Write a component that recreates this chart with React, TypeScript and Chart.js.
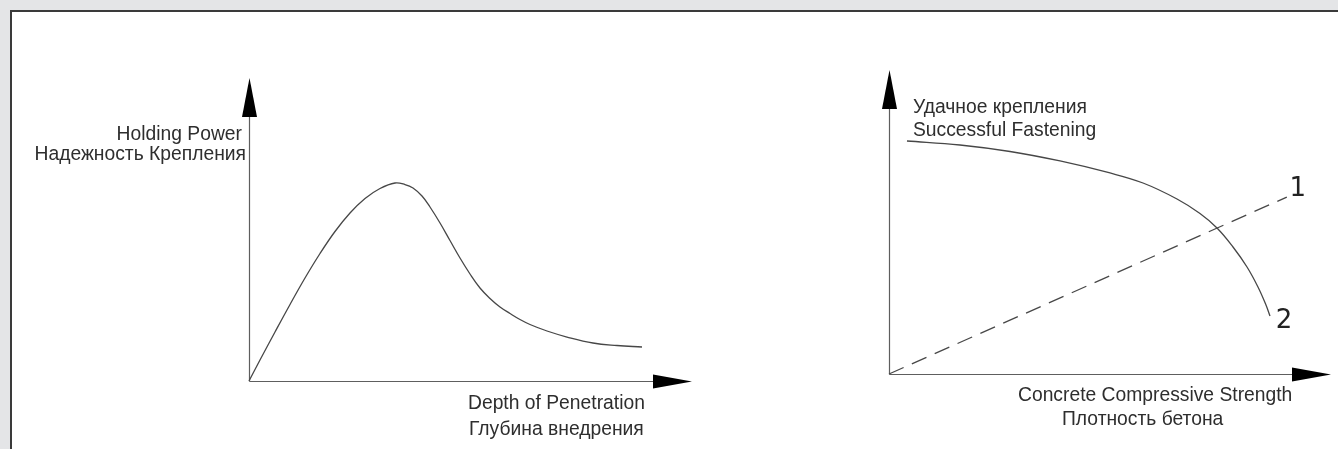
import React, { useEffect, useRef } from "react";
import { Chart, registerables } from "chart.js";

Chart.register(...registerables);

const W = 1338;
const H = 449;

// ---- Left chart: Depth of Penetration vs Holding Power (arbitrary units 0..100)
const depthX = [0, 2.48, 5.87, 9.26, 12.64, 16.03, 19.41, 22.8, 26.19, 29.57, 32.96, 35.21, 37.02, 39.05, 40.86, 43.12, 45.37, 47.63, 49.89, 52.14, 54.4, 56.66, 58.92, 61.17, 63.43, 67.27, 71.78, 77.65, 83.07, 88.71];
const holdingY = [0, 6.93, 16.17, 25.25, 33.99, 42.08, 49.34, 55.45, 60.23, 63.53, 65.35, 64.85, 63.7, 61.06, 57.43, 52.15, 46.37, 40.59, 35.31, 30.69, 27.23, 24.42, 22.28, 20.3, 18.65, 16.5, 14.52, 12.54, 11.72, 11.22];

// ---- Right chart: Concrete Compressive Strength
const strengthX1 = [0, 90.0];
const curve1Y = [0, 58.2];
const strengthX2 = [4.07, 16.06, 27.38, 38.69, 50.0, 57.47, 65.16, 70.36, 74.21, 77.83, 81.0, 83.48, 85.29, 86.2];
const curve2Y = [76.64, 75.33, 73.19, 70.07, 66.12, 62.83, 57.57, 52.8, 48.03, 41.78, 35.2, 28.62, 22.7, 19.08];

// ---- Text
const leftYLabel = ["Holding Power", "Надежность Крепления"];
const leftXLabel = ["Depth of Penetration", "Глубина внедрения"];
const rightYLabel = ["Удачное крепления", "Successful Fastening"];
const rightXLabel = ["Concrete Compressive Strength", "Плотность бетона"];
const curveTags = ["1", "2"];

const FONT = '19.3px "Liberation Sans", Arial, sans-serif';
const TAG_FONT = '26px "DejaVu Sans", "Liberation Sans", sans-serif';
const TEXT_COLOR = "#2e2e2e";
const LINE_COLOR = "#474747";
const AXIS_COLOR = "#5e5e5e";

function toPoints(xs: number[], ys: number[]) {
  return xs.map((x, i) => ({ x, y: ys[i] }));
}

function drawAxes(chart: any) {
  const ctx = chart.ctx as CanvasRenderingContext2D;
  const sx = chart.scales.x;
  const sy = chart.scales.y;
  const x0 = Math.round(sx.getPixelForValue(0)) + 0.5;
  const y0 = Math.round(sy.getPixelForValue(0)) + 0.5;
  const xEnd = sx.getPixelForValue(100);
  const yEnd = sy.getPixelForValue(100);
  ctx.save();
  ctx.strokeStyle = AXIS_COLOR;
  ctx.lineWidth = 1.2;
  ctx.beginPath();
  ctx.moveTo(x0, y0);
  ctx.lineTo(xEnd - 10, y0);
  ctx.moveTo(x0, y0);
  ctx.lineTo(x0, yEnd + 10);
  ctx.stroke();
  ctx.fillStyle = "#000000";
  // x arrow
  ctx.beginPath();
  ctx.moveTo(xEnd, y0);
  ctx.lineTo(xEnd - 39, y0 - 7);
  ctx.lineTo(xEnd - 39, y0 + 7);
  ctx.closePath();
  ctx.fill();
  // y arrow
  ctx.beginPath();
  ctx.moveTo(x0, yEnd);
  ctx.lineTo(x0 - 7.5, yEnd + 39);
  ctx.lineTo(x0 + 7.5, yEnd + 39);
  ctx.closePath();
  ctx.fill();
  ctx.restore();
}

const leftPlugin = {
  id: "leftDecor",
  beforeDatasetsDraw(chart: any) {
    drawAxes(chart);
  },
  afterDraw(chart: any) {
    const ctx = chart.ctx as CanvasRenderingContext2D;
    const x0 = chart.scales.x.getPixelForValue(0);
    const y0 = chart.scales.y.getPixelForValue(0);
    const yEnd = chart.scales.y.getPixelForValue(100);
    ctx.save();
    ctx.font = FONT;
    ctx.fillStyle = TEXT_COLOR;
    ctx.textBaseline = "middle";
    ctx.textAlign = "right";
    ctx.fillText(leftYLabel[0], x0 - 7, yEnd + 57);
    ctx.fillText(leftYLabel[1], x0 - 3, yEnd + 77);
    ctx.textAlign = "left";
    ctx.fillText(leftXLabel[0], x0 + 219, y0 + 23);
    ctx.fillText(leftXLabel[1], x0 + 220, y0 + 48.5);
    ctx.restore();
  },
};

const rightPlugin = {
  id: "rightDecor",
  beforeDatasetsDraw(chart: any) {
    drawAxes(chart);
  },
  afterDraw(chart: any) {
    const ctx = chart.ctx as CanvasRenderingContext2D;
    const sx = chart.scales.x;
    const sy = chart.scales.y;
    const x0 = sx.getPixelForValue(0);
    const y0 = sy.getPixelForValue(0);
    const yEnd = sy.getPixelForValue(100);
    ctx.save();
    ctx.font = FONT;
    ctx.fillStyle = TEXT_COLOR;
    ctx.textBaseline = "middle";
    ctx.textAlign = "left";
    ctx.fillText(rightYLabel[0], x0 + 24, yEnd + 38);
    ctx.fillText(rightYLabel[1], x0 + 24, yEnd + 60.5);
    ctx.fillText(rightXLabel[0], x0 + 129, y0 + 22);
    ctx.fillText(rightXLabel[1], x0 + 173, y0 + 46);
    // curve tags
    ctx.font = TAG_FONT;
    ctx.fillStyle = "#222222";
    ctx.textAlign = "center";
    const e1x = sx.getPixelForValue(strengthX1[strengthX1.length - 1]);
    const e1y = sy.getPixelForValue(curve1Y[curve1Y.length - 1]);
    const e2x = sx.getPixelForValue(strengthX2[strengthX2.length - 1]);
    const e2y = sy.getPixelForValue(curve2Y[curve2Y.length - 1]);
    ctx.fillText(curveTags[0], e1x + 11, e1y - 8);
    ctx.fillText(curveTags[1], e2x + 14, e2y + 5);
    ctx.restore();
  },
};

function baseOptions(padding: any) {
  return {
    responsive: false,
    animation: false as const,
    devicePixelRatio: 1,
    layout: { padding },
    plugins: {
      legend: { display: false },
      tooltip: { enabled: false },
      title: { display: false },
    },
    elements: { point: { radius: 0, hoverRadius: 0 } },
    scales: {
      x: { type: "linear" as const, min: 0, max: 100, display: false },
      y: { type: "linear" as const, min: 0, max: 100, display: false },
    },
    events: [],
  };
}

function ChartCanvas({ make }: { make: (c: HTMLCanvasElement) => Chart }) {
  const ref = useRef<HTMLCanvasElement | null>(null);
  useEffect(() => {
    if (!ref.current) return;
    const chart = make(ref.current);
    return () => chart.destroy();
  }, []);
  return (
    <canvas
      ref={ref}
      width={W}
      height={H}
      style={{ position: "absolute", left: 0, top: 0, width: W, height: H }}
    />
  );
}

function makeLeft(canvas: HTMLCanvasElement) {
  return new Chart(canvas, {
    type: "scatter",
    data: {
      datasets: [
        {
          data: toPoints(depthX, holdingY),
          showLine: true,
          borderColor: LINE_COLOR,
          borderWidth: 1.3,
          tension: 0.4,
          pointRadius: 0,
          clip: false,
        } as any,
      ],
    },
    options: baseOptions({ left: 249, top: 78, right: W - 692, bottom: H - 381 }) as any,
    plugins: [leftPlugin],
  });
}

function makeRight(canvas: HTMLCanvasElement) {
  return new Chart(canvas, {
    type: "scatter",
    data: {
      datasets: [
        {
          data: toPoints(strengthX1, curve1Y),
          showLine: true,
          borderColor: LINE_COLOR,
          borderWidth: 1.3,
          borderDash: [16, 9],
          pointRadius: 0,
          clip: false,
        } as any,
        {
          data: toPoints(strengthX2, curve2Y),
          showLine: true,
          borderColor: LINE_COLOR,
          borderWidth: 1.3,
          tension: 0.4,
          pointRadius: 0,
          clip: false,
        } as any,
      ],
    },
    options: baseOptions({ left: 889, top: 70, right: W - 1331, bottom: H - 374 }) as any,
    plugins: [rightPlugin],
  });
}

export default function App() {
  return (
    <div
      style={{
        position: "fixed",
        left: 0,
        top: 0,
        width: W,
        height: H,
        background: "#e4e5e7",
        overflow: "hidden",
      }}
    >
      <div
        style={{
          position: "absolute",
          left: 10,
          top: 10,
          right: 0,
          bottom: 0,
          background: "#ffffff",
          borderLeft: "2px solid #3a3a3a",
          borderTop: "2px solid #3a3a3a",
        }}
      />
      <ChartCanvas make={makeLeft} />
      <ChartCanvas make={makeRight} />
    </div>
  );
}
